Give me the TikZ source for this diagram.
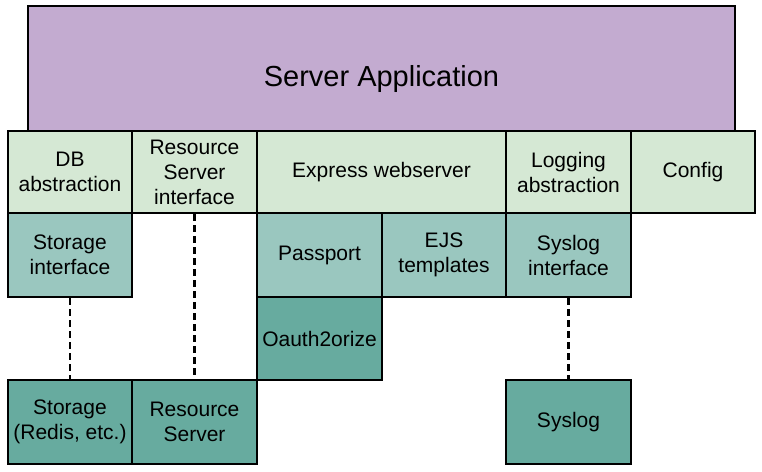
\documentclass[tikz,border=0pt]{standalone}
\usepackage{fontspec}
\setmainfont{Liberation Sans}
\definecolor{appcol}{HTML}{C3ABD0}
\definecolor{layercol}{HTML}{D5E8D4}
\definecolor{ifcol}{HTML}{9AC7BF}
\definecolor{implcol}{HTML}{67AB9F}
\begin{document}
\begin{tikzpicture}[x=1pt,y=-1pt,
  blk/.style={draw=black, line width=2.2pt, inner sep=0pt, align=center,
    font=\fontsize{21}{25}\selectfont, minimum height=#1},
  blk/.default=84pt,
  layer/.style={blk=82pt, fill=layercol},
  iface/.style={blk=84pt, fill=ifcol},
  impl/.style={blk=84pt, fill=implcol},
  link/.style={line width=2.6pt, dash pattern=on 7pt off 4pt}]
\useasboundingbox (0,0) rectangle (762,471);

% top box, runs on under the first row
\node[blk=146pt, fill=appcol, minimum width=707pt,
  font=\fontsize{29}{33}\selectfont] (app) at (381.5,79) {Server Application};

% first row
\node[layer, minimum width=124pt] (db) at (70,172) {DB\\abstraction};
\node[layer, minimum width=125pt] (rsi) at (194.5,172) {Resource\\Server\\interface};
\node[layer, minimum width=249pt] (express) at (381.5,172) {Express webserver};
\node[layer, minimum width=125pt] (logging) at (568.5,172) {Logging\\abstraction};
\node[layer, minimum width=124pt] (config) at (693,172) {Config};

% second row
\node[iface, minimum width=124pt] (storif) at (70,255) {Storage\\interface};
\node[iface, minimum width=125pt] (passport) at (319.5,255) {Passport};
\node[iface, minimum width=124pt] (ejs) at (444,255) {EJS\\templates};
\node[iface, minimum width=125pt] (syslogif) at (568.5,255) {Syslog\\interface};

\node[impl, blk=83pt, minimum width=125pt] (oauth) at (319.5,338.5) {Oauth2orize};

% back ends
\node[impl, minimum width=124pt] (storage) at (70,422) {Storage\\(Redis, etc.)};
\node[impl, minimum width=125pt] (ressrv) at (194.5,422) {Resource\\Server};
\node[impl, minimum width=125pt] (syslog) at (568.5,422) {Syslog};

\draw[link] (storif) -- (storage);
\draw[link] (rsi) -- (ressrv);
\draw[link] (syslogif) -- (syslog);
\end{tikzpicture}
\end{document}
